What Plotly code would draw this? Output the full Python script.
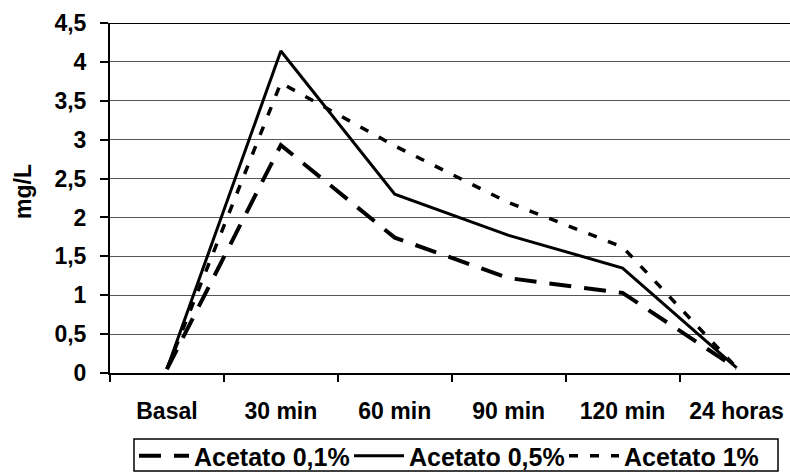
import plotly.graph_objects as go

categories = ["Basal", "30 min", "60 min", "90 min", "120 min", "24 horas"]
acetato_01 = [0.05, 2.93, 1.74, 1.22, 1.03, 0.06]
acetato_05 = [0.05, 4.14, 2.30, 1.77, 1.35, 0.07]
acetato_1 = [0.05, 3.73, 2.92, 2.19, 1.62, 0.07]
y_ticks = [0, 0.5, 1, 1.5, 2, 2.5, 3, 3.5, 4, 4.5]

FONT = "Liberation Sans, Arial, sans-serif"
L, T, PW, PH = 110, 23, 680, 350


def px_x(p):
    return (p - L) / PW


def px_y(p):
    return (T + PH - p) / PH


fig = go.Figure()
fig.add_trace(go.Scatter(x=categories, y=acetato_01, mode="lines", name="Acetato 0,1%",
                         line=dict(color="black", width=4, dash="22px,13px")))
fig.add_trace(go.Scatter(x=categories, y=acetato_05, mode="lines", name="Acetato 0,5%",
                         line=dict(color="black", width=3)))
fig.add_trace(go.Scatter(x=categories, y=acetato_1, mode="lines", name="Acetato 1%",
                         line=dict(color="black", width=3.5, dash="9px,12px")))

fig.update_layout(
    width=790, height=472,
    margin=dict(l=L, r=0, t=T, b=472 - T - PH, autoexpand=False),
    paper_bgcolor="white", plot_bgcolor="white",
    separators=",.",
    font=dict(family=FONT, size=23, color="black", weight="bold"),
    showlegend=True,
    legend=dict(orientation="h", xref="container", yref="container",
                x=134 / 790, xanchor="left", y=1 - 433 / 472, yanchor="top",
                borderwidth=0, itemwidth=50, entrywidth=150,
                font=dict(family=FONT, size=25, color="black", weight="bold"),
                bgcolor="rgba(0,0,0,0)", tracegroupgap=0),
    xaxis=dict(type="category", range=[-0.5, 5.47], showgrid=False, zeroline=False,
               showline=True, linecolor="black", linewidth=2,
               ticks="outside", tickson="boundaries", ticklen=7, tickcolor="black", tickwidth=1.5,
               ticklabelstandoff=16, tickfont=dict(family=FONT, size=23, color="black", weight="bold")),
    yaxis=dict(range=[0, 4.5], tickvals=y_ticks, showgrid=True, gridcolor="#555555", gridwidth=1,
               zeroline=False, showline=True, linecolor="black", linewidth=2,
               ticks="outside", ticklen=8, tickcolor="black", tickwidth=1.5,
               ticklabelstandoff=9, tickfont=dict(family=FONT, size=23, color="black", weight="bold")),
)

fig.add_shape(type="line", xref="paper", yref="y", x0=0, x1=1, y0=4.5, y1=4.5,
              line=dict(color="black", width=2))

# legend frame
fig.add_shape(type="rect", xref="paper", yref="paper",
              x0=px_x(134), x1=px_x(778), y0=px_y(439), y1=px_y(471),
              line=dict(color="black", width=1.5), fillcolor="rgba(0,0,0,0)", layer="below")

fig.add_annotation(text="mg/L", xref="paper", yref="paper", x=0, y=0.5,
                   xanchor="center", yanchor="middle", xshift=-87, yshift=6,
                   textangle=-90, showarrow=False,
                   font=dict(family=FONT, size=23, color="black", weight="bold"))

fig.write_html("out.html")
